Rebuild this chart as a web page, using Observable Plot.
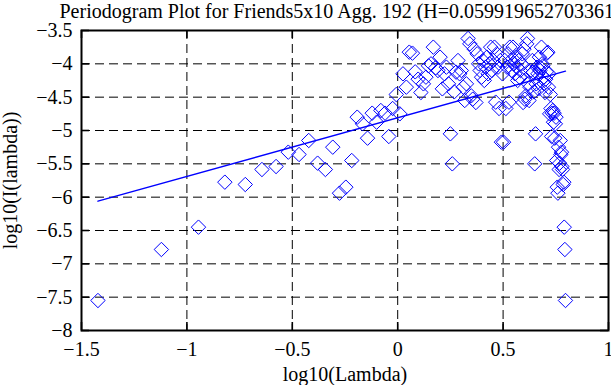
<!DOCTYPE html>
<html>
<head>
<meta charset="utf-8">
<script src="https://cdn.jsdelivr.net/npm/d3@7"></script>
<script src="https://cdn.jsdelivr.net/npm/@observablehq/plot@0.6"></script>
<style>
  html, body { margin: 0; padding: 0; background: #fff; overflow: hidden; }
  #chart svg { display: block; }
</style>
</head>
<body>
<div id="chart"></div>
<script>
const titleText = "Periodogram Plot for Friends5x10 Agg. 192 (H=0.0599196527033615)";
const xLabel = "log10(Lambda)";
const yLabel = "log10(I(lambda))";

const xTicks = [-1.5, -1, -0.5, 0, 0.5, 1];
const yTicks = [-8, -7.5, -7, -6.5, -6, -5.5, -5, -4.5, -4, -3.5];

// log10 of frequency
const logLambda = [-1.422,-1.121,-0.945,-0.820,-0.723,-0.644,-0.577,-0.519,-0.468,-0.422,
-0.380,-0.343,-0.308,-0.276,-0.246,-0.218,-0.192,-0.167,-0.143,-0.121,
-0.100,-0.080,-0.060,-0.042,-0.024,-0.007,0.010,0.025,0.041,0.055,
0.070,0.083,0.097,0.110,0.122,0.134,0.146,0.158,0.169,0.180,
0.191,0.201,0.212,0.222,0.231,0.241,0.250,0.259,0.268,0.277,
0.286,0.294,0.302,0.311,0.318,0.326,0.334,0.342,0.349,0.356,
0.363,0.371,0.377,0.384,0.391,0.398,0.404,0.411,0.417,0.423,
0.429,0.435,0.441,0.447,0.453,0.459,0.465,0.470,0.476,0.481,
0.487,0.492,0.497,0.502,0.508,0.513,0.518,0.523,0.528,0.532,
0.537,0.542,0.547,0.551,0.556,0.560,0.565,0.569,0.574,0.578,
0.582,0.587,0.591,0.595,0.599,0.603,0.608,0.612,0.616,0.620,
0.623,0.627,0.631,0.635,0.639,0.643,0.646,0.650,0.654,0.657,
0.661,0.665,0.668,0.672,0.675,0.679,0.682,0.685,0.689,0.692,
0.695,0.699,0.702,0.705,0.708,0.712,0.715,0.718,0.721,0.724,
0.727,0.730,0.733,0.736,0.739,0.742,0.745,0.748,0.751,0.754,
0.757,0.760,0.763,0.766,0.768,0.771,0.774,0.777,0.779,0.782,
0.785,0.788,0.790,0.793,0.796];

// log10 of periodogram value
const logI = [-7.55,-6.785,-6.45,-5.775,-5.81,-5.585,-5.54,-5.325,-5.36,-5.15,
-5.49,-5.585,-5.25,-5.94,-5.85,-5.45,-4.80,-4.90,-5.115,-4.74,
-4.875,-4.70,-4.74,-5.09,-4.67,-4.46,-4.75,-4.15,-4.35,-3.825,
-3.84,-4.12,-4.23,-4.43,-4.30,-4.20,-4.03,-4.00,-3.75,-4.06,
-4.10,-3.90,-4.375,-4.15,-4.05,-4.30,-5.05,-5.50,-4.42,-4.125,
-3.95,-4.15,-4.10,-4.35,-4.55,-4.30,-3.62,-3.70,-4.48,-4.53,
-3.78,-4.58,-3.85,-4.00,-4.10,-4.20,-3.95,-4.25,-4.05,-3.90,
-4.15,-4.00,-3.75,-4.10,-3.95,-3.75,-4.575,-3.85,-4.05,-4.67,
-3.95,-5.175,-4.15,-5.175,-3.95,-4.67,-4.05,-3.85,-4.575,-3.75,
-3.95,-4.10,-3.75,-4.00,-4.15,-3.90,-4.05,-4.25,-3.95,-4.20,
-4.10,-4.00,-3.85,-4.58,-3.78,-4.53,-4.48,-3.70,-3.62,-4.30,
-4.55,-4.35,-4.10,-4.15,-3.95,-4.125,-4.42,-5.50,-5.05,-4.30,
-4.05,-4.15,-4.375,-3.90,-4.10,-4.06,-3.75,-4.00,-4.03,-4.20,
-4.30,-4.43,-4.23,-4.12,-3.84,-3.825,-4.35,-4.15,-4.75,-4.46,
-4.67,-5.09,-4.74,-4.70,-4.875,-4.74,-5.115,-4.90,-4.80,-5.45,
-5.85,-5.94,-5.25,-5.585,-5.49,-5.15,-5.36,-5.325,-5.54,-5.585,
-5.81,-5.775,-6.45,-6.785,-7.55];

// fitted regression line end points
const fitX = [-1.422, 0.796];
const fitY = [-6.06, -4.11];

const fmt = d => String(d).replace("-", "\u2212");
const font = "'Liberation Serif', 'Times New Roman', serif";
const W = 611, H = 385, ML = 81, MR = 3, MT = 30, MB = 55;
const innerW = W - ML - MR, innerH = H - MT - MB, tick = 8;

const chart = Plot.plot({
  width: W, height: H,
  marginLeft: ML, marginRight: MR, marginTop: MT, marginBottom: MB,
  style: { fontFamily: font, fontSize: "20px", background: "#fff", color: "#000", overflow: "visible" },
  x: { domain: [-1.5, 1], axis: null },
  y: { domain: [-8, -3.5], axis: null },
  marks: [
    Plot.ruleX(xTicks, { stroke: "#000", strokeWidth: 1, strokeDasharray: "9,5" }),
    Plot.ruleY(yTicks, { stroke: "#000", strokeWidth: 1, strokeDasharray: "9,5" }),
    Plot.ruleY(yTicks, { stroke: "#000", strokeWidth: 1.6, insetRight: innerW - tick }),
    Plot.ruleY(yTicks, { stroke: "#000", strokeWidth: 1.6, insetLeft: innerW - tick }),
    Plot.ruleX(xTicks, { stroke: "#000", strokeWidth: 1.6, insetTop: innerH - tick }),
    Plot.ruleX(xTicks, { stroke: "#000", strokeWidth: 1.6, insetBottom: innerH - tick }),
    Plot.frame({ stroke: "#000", strokeWidth: 2 }),
    Plot.axisX(xTicks, { anchor: "bottom", tickSize: 0, tickPadding: 11, tickFormat: fmt, fontSize: 20, fill: "#000", label: null }),
    Plot.axisY(yTicks, { anchor: "left", tickSize: 0, tickPadding: 9, tickFormat: fmt, fontSize: 20, fill: "#000", label: null }),
    Plot.line(fitX, { x: fitX, y: fitY, stroke: "#0000ff", strokeWidth: 1.4 }),
    Plot.dot(logLambda, { x: logLambda, y: logI, symbol: "diamond2", r: 6.5, stroke: "#0000ff", fill: "none", strokeWidth: 1 }),
    Plot.text([xLabel], { frameAnchor: "bottom", dy: 44, lineAnchor: "middle", textAnchor: "middle", fontSize: 20, fill: "#000" }),
    Plot.text([yLabel], { frameAnchor: "left", dx: -71, rotate: -90, lineAnchor: "middle", textAnchor: "middle", fontSize: 20, fill: "#000" }),
    Plot.text([titleText], { frameAnchor: "top-left", dx: -22, dy: -19, lineAnchor: "middle", textAnchor: "start", fontSize: 20, fill: "#000" })
  ]
});
document.getElementById("chart").appendChild(chart);
</script>
</body>
</html>
